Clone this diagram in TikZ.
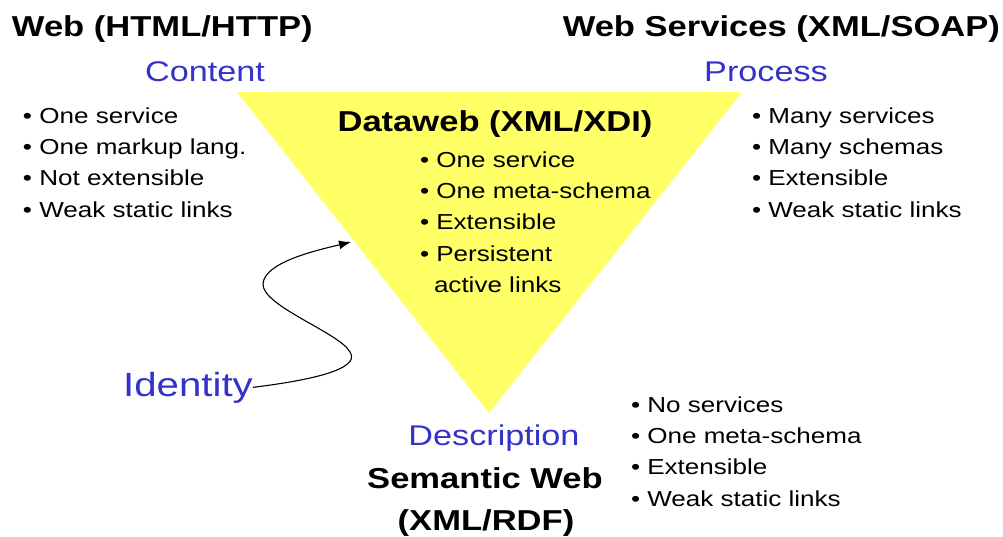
\documentclass[tikz,border=0pt]{standalone}
\usepackage{fontspec}
\setmainfont{Liberation Sans}
\usetikzlibrary{arrows.meta}
\definecolor{tri}{RGB}{255,255,102}
\definecolor{lblblue}{RGB}{51,51,204}
\begin{document}
\begin{tikzpicture}[x=1pt,y=-1pt,
  every node/.style={inner sep=0pt, outer sep=0pt, xscale=1.2},
  title/.style={font=\fontsize{28.8}{34}\selectfont\bfseries},
  item/.style={font=\fontsize{21.7}{25}\selectfont, anchor=base west},
  lbl/.style={font=\fontsize{28.5}{34}\selectfont, text=lblblue, anchor=base},
  conn/.style={line width=1.1pt, -{Latex[length=12pt,width=9pt]}}]
\useasboundingbox (0,0) rectangle (1003,536);
\fill[tri] (237,92) -- (742,92) -- (489,413) -- cycle;

% titles
\node[title, anchor=base west] (web) at (12,36) {Web (HTML/HTTP)};
\node[title, anchor=base east] (ws) at (1000,36) {Web Services (XML/SOAP)};
\node[lbl] (content) at (205,81) {Content};
\node[lbl] (process) at (766,81) {Process};
\node[title, anchor=base] (dw) at (495,131) {Dataweb (XML/XDI)};
\node[lbl] (desc) at (494,445) {Description};
\node[title, anchor=base] (sw1) at (485,488) {Semantic Web};
\node[title, anchor=base] (sw2) at (486,530) {(XML/RDF)};
\node[font=\fontsize{33.5}{40}\selectfont, text=lblblue, anchor=base] (id) at (188,396) {Identity};

% left list
\node[item] (l1) at (23,123.3) {• One service};
\node[item] (l2) at (23,154.6) {• One markup lang.};
\node[item] (l3) at (23,185.9) {• Not extensible};
\node[item] (l4) at (23,217.2) {• Weak static links};

% right list
\node[item] (r1) at (752,123.3) {• Many services};
\node[item] (r2) at (752,154.6) {• Many schemas};
\node[item] (r3) at (752,185.9) {• Extensible};
\node[item] (r4) at (752,217.2) {• Weak static links};

% dataweb list
\node[item] (d1) at (420,167.3) {• One service};
\node[item] (d2) at (420,198.6) {• One meta-schema};
\node[item] (d3) at (420,229.9) {• Extensible};
\node[item] (d4) at (420,261.2) {• Persistent};
\node[item] (d5) at (434,292.5) {active links};

% bottom list
\node[item] (b1) at (631,412.3) {• No services};
\node[item] (b2) at (631,443.6) {• One meta-schema};
\node[item] (b3) at (631,474.9) {• Extensible};
\node[item] (b4) at (631,506.2) {• Weak static links};

% identity arrow
\coordinate (tip) at (351,242);
\draw[conn] (id.east) .. controls (305,381) and (362,370) .. (350,352)
  .. controls (340,333) and (262,306) .. (263,284)
  .. controls (264,262) and (318,250) .. (tip);
\end{tikzpicture}
\end{document}
